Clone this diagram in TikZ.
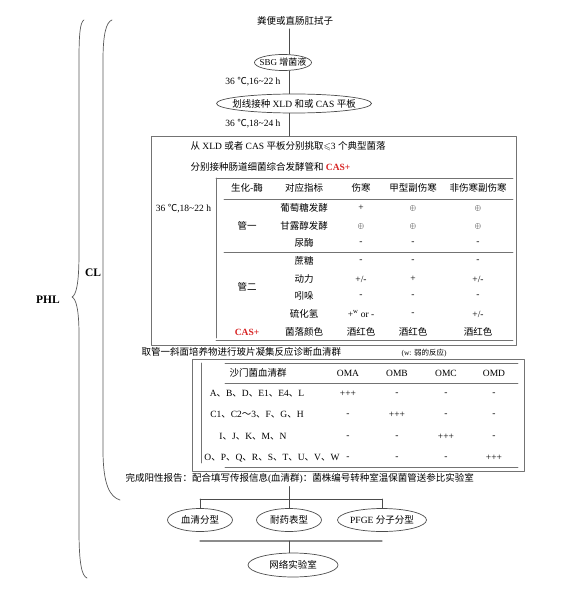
\documentclass[tikz,border=0pt]{standalone}
\usepackage{amsmath,amssymb}
\usepackage{fontspec}
\setmainfont{Liberation Serif}
\newfontfamily\cjkfont{Noto Sans CJK SC}
\newcommand{\zhtxt}[1]{{\cjkfont #1}}
\newcommand{\oxs}{{\footnotesize$\oplus$}}
\newcommand{\pmval}{+/-}
\newcommand{\weakor}{+\textsuperscript{w} or -}
\newcommand{\dunhao}{\zhtxt{、}}
\definecolor{casred}{RGB}{215,35,35}
\usetikzlibrary{shapes.geometric}

\begin{document}
\begin{tikzpicture}[x=1pt, y=-1pt, line cap=round, line join=round,
  font=\fontsize{9.5}{11}\selectfont,
  link/.style={black!70, line width=0.7pt},
  rule/.style={black!55, line width=0.9pt},
  frame/.style={draw=black!55, line width=0.8pt, inner sep=0pt},
  oval/.style={ellipse, draw=black!70, line width=0.7pt, inner sep=0pt},
  brace/.style={black!65, line width=0.7pt}]
  \useasboundingbox (0,0) rectangle (572,596);
  % Ngoặc PHL và CL
  \draw[brace] (84,20) .. controls (80,22) and (79,35) .. (79,60) -- (79,253)
    .. controls (79,285) and (76,295) .. (72,297)
    .. controls (76,299) and (79,309) .. (79,335) -- (79,530)
    .. controls (79,565) and (82,576) .. (87,578);
  \node[font=\fontsize{11.5}{13}\selectfont\bfseries] (phl) at (48,300) {PHL};
  \draw[brace] (112,20) .. controls (106,22) and (103,35) .. (103,60) -- (103,450)
    .. controls (103,485) and (110,497) .. (120,500);
  \node[font=\fontsize{11.5}{13}\selectfont\bfseries] (cl) at (93,273) {CL};
  % Tăng sinh và cấy phân lập
  \coordinate (trunk) at (289,0);
  \node (src) at (295,21) {\zhtxt{粪便或直肠肛拭子}};
  \node[oval, minimum width=57, minimum height=16,
    label={[font=\fontsize{9}{10}\selectfont]center:SBG \zhtxt{增菌液}}] (sbg) at (283,62.5) {};
  \node[oval, minimum width=155, minimum height=19,
    label={center:\zhtxt{划线接种} XLD \zhtxt{和或} CAS \zhtxt{平板}}] (xld) at (294,103.5) {};
  \node[anchor=east] (t1) at (284,82) {36 \zhtxt{℃},16\textasciitilde22 h};
  \node[anchor=east] (t2) at (284,124) {36 \zhtxt{℃},18\textasciitilde24 h};
  \node[frame, minimum width=365, minimum height=209, anchor=north west] (bigbox) at (151,136) {};
  \draw[link] (src.south -| trunk) -- (trunk |- sbg.north);
  \draw[link] (trunk |- sbg.south) -- (trunk |- xld.north);
  \draw[link] (trunk |- xld.south) -- (trunk |- bigbox.north);
  % Bảng sinh hóa
  \node[anchor=west] (pick) at (187,146) {\zhtxt{从} XLD \zhtxt{或者} CAS \zhtxt{平板分别挑取}$\leqslant$3 \zhtxt{个典型菌落}};
  \node[anchor=west] (inoc) at (187,167) {\zhtxt{分别接种肠道细菌综合发酵管和} \textcolor{casred}{\textbf{CAS+}}};
  \node (incub) at (183.5,209) {36 \zhtxt{℃},18\textasciitilde22 h};
  \draw[rule] (216,178) -- (513,178);
  \draw[rule] (224,199) -- (513,199);
  \draw[rule] (224,252) -- (513,252);
  \draw[rule] (216,340) -- (513,340);
  \draw[rule] (216,178) -- (216,338);
  \foreach \x/\lab [count=\i] in {247/\zhtxt{生化-酶}, 304/\zhtxt{对应指标}, 361/\zhtxt{伤寒},
      413/\zhtxt{甲型副伤寒}, 478/\zhtxt{非伤寒副伤寒}}
    \node (hd\i) at (\x,188) {\lab};
  \node (tube1) at (247,226) {\zhtxt{管一}};
  \node (tube2) at (247,287) {\zhtxt{管二}};
  \node (casp) at (247,332) {\textcolor{casred}{\textbf{CAS+}}};
  \foreach \y/\lab/\a/\b/\c [count=\i] in {
      208/葡萄糖发酵/+/\oxs/\oxs, 226/甘露醇发酵/\oxs/\oxs/\oxs, 243/尿酶/-/-/-,
      261/蔗糖/-/-/-, 279/动力/\pmval/+/\pmval, 296/吲哚/-/-/-,
      314/硫化氢/\weakor/-/\pmval, 332/菌落颜色/\zhtxt{酒红色}/\zhtxt{酒红色}/\zhtxt{酒红色}} {
    \node (ind\i) at (304,\y) {\zhtxt{\lab}};
    \node (ty\i) at (361,\y) {\a};
    \node (pa\i) at (413,\y) {\b};
    \node (nt\i) at (478,\y) {\c};
  }
  % Ngưng kết huyết thanh
  \node[anchor=west] (slide) at (138,352) {\zhtxt{取管一斜面培养物进行玻片凝集反应诊断血清群}};
  \node[anchor=west, font=\fontsize{7.5}{9}\selectfont] (wnote) at (398,353) {(w: \zhtxt{弱的反应})};
  \node[frame, minimum width=332, minimum height=112, anchor=north west] (serbox) at (192,359) {};
  \draw[rule] (225,363) -- (518,363);
  \draw[rule] (225,383) -- (518,383);
  \draw[rule] (225,467) -- (518,467);
  \draw[rule] (201,363) -- (201,463);
  \foreach \x/\lab [count=\i] in {258/\zhtxt{沙门菌血清群}, 348/OMA, 397/OMB, 446/OMC, 494/OMD}
    \node (sh\i) at (\x,373) {\lab};
  \foreach \y/\x/\g/\a/\b/\c/\d [count=\i] in {
      394/257/{A\dunhao B\dunhao D\dunhao E1\dunhao E4\dunhao L}/+++/-/-/-,
      415/257/{C1\dunhao C2\zhtxt{～}3\dunhao F\dunhao G\dunhao H}/-/+++/-/-,
      437/253/{I\dunhao J\dunhao K\dunhao M\dunhao N}/-/-/+++/-,
      458/272/{O\dunhao P\dunhao Q\dunhao R\dunhao S\dunhao T\dunhao U\dunhao V\dunhao W}/-/-/-/+++} {
    \node (sg\i) at (\x,\y) {\g};
    \node (sa\i) at (348,\y) {\a};
    \node (sb\i) at (397,\y) {\b};
    \node (sc\i) at (446,\y) {\c};
    \node (sd\i) at (494,\y) {\d};
  }
  % Báo cáo và phân tích tiếp
  \node[anchor=west] (report) at (122,478) {\zhtxt{完成阳性报告：配合填写传报信息}(\zhtxt{血清群})\zhtxt{：菌株编号转种室温保菌管送参比实验室}};
  \node[oval, minimum width=65, minimum height=23, label={center:\zhtxt{血清分型}}] (sero) at (200,520) {};
  \node[oval, minimum width=65, minimum height=23, label={center:\zhtxt{耐药表型}}] (res) at (289,520) {};
  \node[oval, minimum width=89, minimum height=23, label={center:PFGE \zhtxt{分子分型}}] (pfge) at (382,520) {};
  \node[oval, minimum width=90, minimum height=24, label={center:\zhtxt{网络实验室}}] (net) at (293,565) {};
  \coordinate (split) at (289,499);
  \coordinate (merge) at (289,541);
  \draw[link] (report.south -| split) -- (split);
  \draw[link] (sero |- split) -- (pfge |- split);
  \foreach \n in {sero,res,pfge}
    \draw[link] (\n |- split) -- (\n.north);
  \draw[black!45, line width=1.3pt] (sero |- merge) -- (pfge |- merge);
  \draw[link] (merge) -- (merge |- net.north);
\end{tikzpicture}
\end{document}
